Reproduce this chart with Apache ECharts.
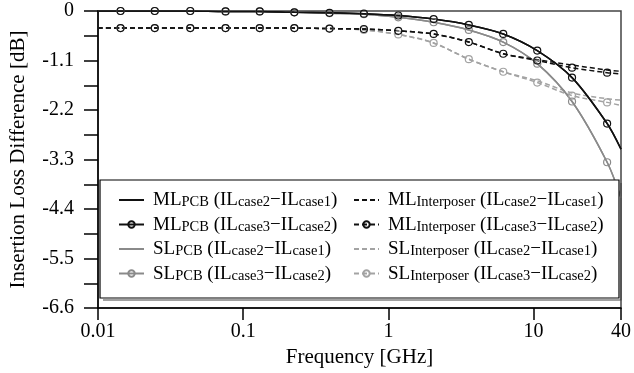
<!DOCTYPE html>
<html>
<head>
<meta charset="utf-8">
<script src="https://cdn.jsdelivr.net/npm/echarts@6/dist/echarts.min.js"></script>
<style>
  html, body { margin: 0; padding: 0; background: #fff; }
  #chart { width: 634px; height: 373px; }
</style>
</head>
<body>
<div id="chart"></div>
<script>
// frequency points [GHz]; first and last are curve ends without marker
const freqs = [0.01, 0.0143, 0.0246, 0.0432, 0.0756, 0.130, 0.225, 0.393, 0.678, 1.17, 2.05, 3.58, 6.18, 10.6, 18.4, 32.1, 40];

// insertion loss difference [dB]
const mlPcb21 = [0, 0, 0, 0, -0.01, -0.01, -0.03, -0.04, -0.06, -0.10, -0.18, -0.31, -0.51, -0.88, -1.48, -2.50, -3.07];
const mlPcb32 = [0, 0, 0, 0, -0.01, -0.01, -0.03, -0.04, -0.06, -0.10, -0.18, -0.31, -0.51, -0.88, -1.48, -2.50, -3.07];
const slPcb21 = [0, 0, 0, 0, -0.01, -0.01, -0.03, -0.05, -0.07, -0.14, -0.25, -0.42, -0.69, -1.17, -2.01, -3.36, -4.15];
const slPcb32 = [0, 0, 0, 0, -0.01, -0.01, -0.03, -0.05, -0.07, -0.14, -0.25, -0.42, -0.69, -1.17, -2.01, -3.36, -4.15];
const mlInt21 = [-0.38, -0.38, -0.38, -0.38, -0.38, -0.38, -0.38, -0.39, -0.40, -0.44, -0.51, -0.69, -0.95, -1.08, -1.20, -1.31, -1.34];
const mlInt32 = [-0.38, -0.38, -0.38, -0.38, -0.38, -0.38, -0.38, -0.39, -0.40, -0.44, -0.51, -0.69, -0.95, -1.10, -1.26, -1.37, -1.40];
const slInt21 = [-0.38, -0.38, -0.38, -0.38, -0.38, -0.38, -0.38, -0.39, -0.42, -0.52, -0.71, -1.07, -1.35, -1.55, -1.82, -1.95, -1.98];
const slInt32 = [-0.38, -0.38, -0.38, -0.38, -0.38, -0.38, -0.38, -0.39, -0.42, -0.52, -0.71, -1.07, -1.35, -1.59, -1.88, -2.03, -2.10];

const yTicks = { min: -6.6, max: 0, step: 1.1 };

// legend label pieces: [line, sub, case a, case b]
const labels = {
  mlPcb21: ['ML', 'PCB', 'case2', 'case1'],
  mlPcb32: ['ML', 'PCB', 'case3', 'case2'],
  slPcb21: ['SL', 'PCB', 'case2', 'case1'],
  slPcb32: ['SL', 'PCB', 'case3', 'case2'],
  mlInt21: ['ML', 'Interposer', 'case2', 'case1'],
  mlInt32: ['ML', 'Interposer', 'case3', 'case2'],
  slInt21: ['SL', 'Interposer', 'case2', 'case1'],
  slInt32: ['SL', 'Interposer', 'case3', 'case2']
};
const withMarker = ['mlPcb32', 'slPcb32', 'mlInt32', 'slInt32'];

const BLACK = '#111';
const GREY = '#8a8a8a';
const LGREY = '#a3a3a3';

function mkSeries(name, vals, color, dashed) {
  const marker = withMarker.includes(name);
  const data = freqs.map((f, i) => {
    const item = { value: [f, vals[i]] };
    if (i === 0 || i === freqs.length - 1) item.symbol = 'none';
    return item;
  });
  return {
    name, type: 'line', data, smooth: 0.3,
    symbol: 'circle',
    symbolSize: 7,
    showSymbol: marker,
    itemStyle: { color: 'rgba(255,255,255,0)', borderColor: color, borderWidth: 1.2 },
    lineStyle: { color, width: 1.5, type: dashed ? [5, 3] : 'solid' },
    emphasis: { disabled: true },
    z: 2
  };
}

const serif = 'Liberation Serif, Times New Roman, serif';
const rich = {
  t: { fontFamily: serif, fontSize: 19, lineHeight: 20, color: '#000', verticalAlign: 'bottom' },
  s: { fontFamily: serif, fontSize: 14.5, lineHeight: 12, color: '#000', verticalAlign: 'bottom' }
};
function fmt(name) {
  const p = labels[name];
  return `{t|${p[0]}}{s|${p[1]}}{t| (IL}{s|${p[2]}}{t|\u2212IL}{s|${p[3]}}{t|)}`;
}
function mkLegend(left, names) {
  return {
    data: names.map(n => withMarker.includes(n) ? n : { name: n, itemStyle: { opacity: 0 } }),
    orient: 'vertical', left, top: 186,
    itemWidth: 25, itemHeight: 8, itemGap: 5.5,
    selectedMode: false, z: 5,
    formatter: fmt,
    textStyle: { rich, padding: [0, 0, 0, 4] }
  };
}

const chart = echarts.init(document.getElementById('chart'));
chart.setOption({
  animation: false,
  backgroundColor: '#fff',
  grid: { left: 93, right: 8, top: 11, bottom: 63, show: true, borderColor: '#444', borderWidth: 1.5 },
  xAxis: {
    type: 'log', logBase: 10, min: 0.01, max: 40,
    name: 'Frequency [GHz]', nameLocation: 'middle', nameGap: 35,
    nameTextStyle: { fontFamily: serif, fontSize: 21, color: '#000' },
    axisLine: { onZero: false, lineStyle: { color: '#000', width: 1.5 } },
    axisTick: { length: 12, lineStyle: { color: '#000', width: 1.5 } },
    axisLabel: {
      fontFamily: serif, fontSize: 20, color: '#000', margin: 14,
      showMinLabel: true, showMaxLabel: true,
      formatter: v => String(Number(v.toPrecision(3)))
    },
    splitLine: { show: false },
    minorTick: { show: false }
  },
  yAxis: {
    type: 'value', min: yTicks.min, max: yTicks.max, interval: yTicks.step,
    name: 'Insertion Loss Difference [dB]', nameLocation: 'middle', nameGap: 69,
    nameTextStyle: { fontFamily: serif, fontSize: 21, color: '#000' },
    axisLine: { show: true, onZero: false, lineStyle: { color: '#000', width: 1.5 } },
    axisTick: { length: 14, lineStyle: { color: '#000', width: 1.5 } },
    minorTick: { show: true, splitNumber: 2, length: 14, lineStyle: { color: '#000', width: 1.5 } },
    axisLabel: {
      fontFamily: serif, fontSize: 20, color: '#000', margin: 24,
      formatter: v => (Math.abs(v) < 1e-9 ? '0' : v.toFixed(1))
    },
    splitLine: { show: false }
  },
  legend: [
    mkLegend(113, ['mlPcb21', 'mlPcb32', 'slPcb21', 'slPcb32']),
    mkLegend(348, ['mlInt21', 'mlInt32', 'slInt21', 'slInt32'])
  ],
  graphic: [
    { type: 'polyline', z: 3, shape: { points: [[103, 300], [621, 300], [621, 183]] }, style: { fill: null, stroke: '#444', lineWidth: 1.2 } },
    { type: 'rect', z: 3, shape: { x: 100, y: 180, width: 519, height: 118 }, style: { fill: '#fff', stroke: '#000', lineWidth: 1.2 } }
  ],
  series: [
    mkSeries('slInt21', slInt21, LGREY, true),
    mkSeries('slInt32', slInt32, LGREY, true),
    mkSeries('slPcb21', slPcb21, GREY, false),
    mkSeries('slPcb32', slPcb32, GREY, false),
    mkSeries('mlInt21', mlInt21, BLACK, true),
    mkSeries('mlInt32', mlInt32, BLACK, true),
    mkSeries('mlPcb21', mlPcb21, BLACK, false),
    mkSeries('mlPcb32', mlPcb32, BLACK, false)
  ]
});
</script>
</body>
</html>
